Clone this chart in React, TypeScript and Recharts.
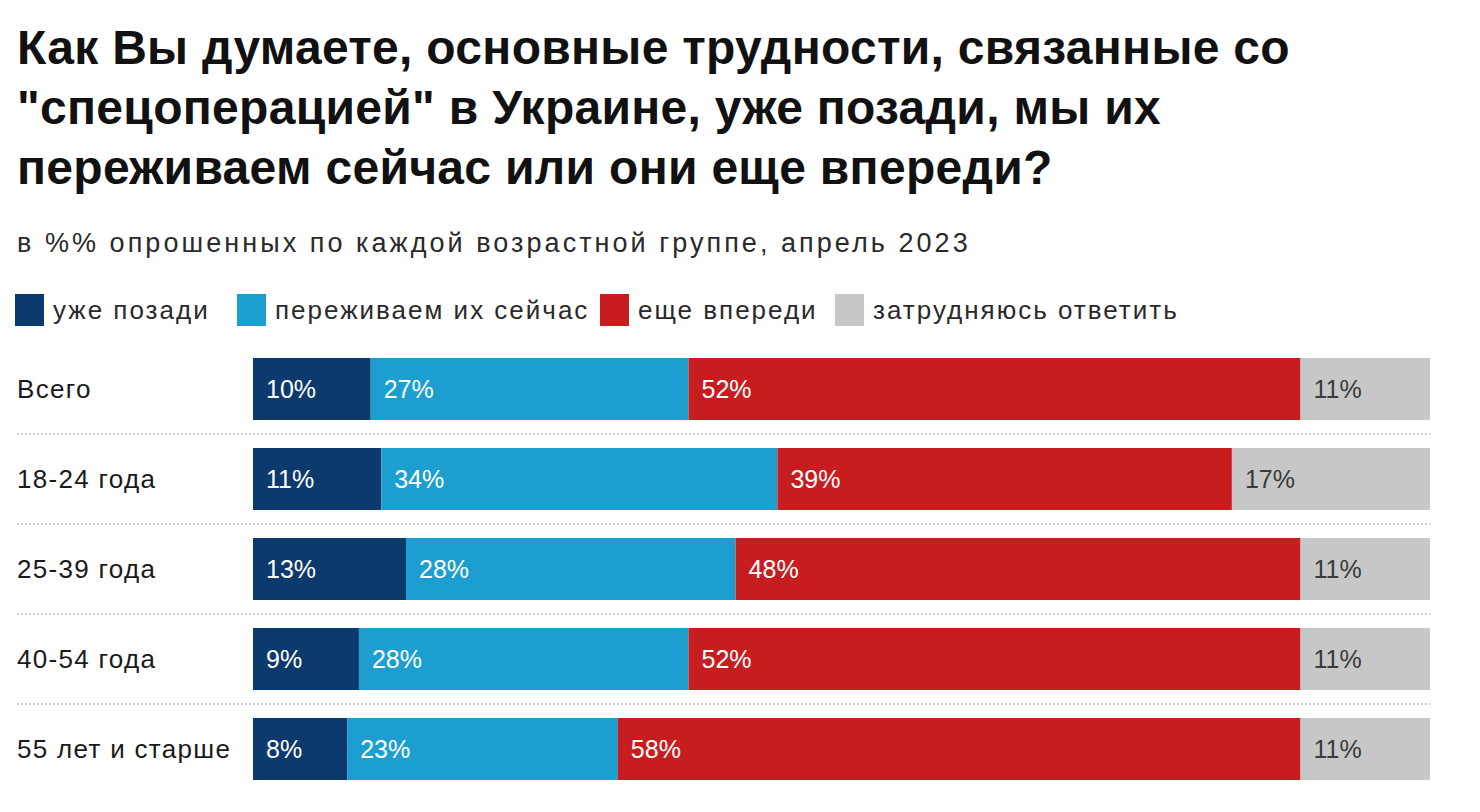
import React from "react";
import { Bar, BarChart, LabelList, XAxis, YAxis } from "recharts";

const groups = ["Всего", "18-24 года", "25-39 года", "40-54 года", "55 лет и старше"];
const behind = [10, 11, 13, 9, 8];
const now = [27, 34, 28, 28, 23];
const ahead = [52, 39, 48, 52, 58];
const unsure = [11, 17, 11, 11, 11];

const seriesNames = ["уже позади", "переживаем их сейчас", "еще впереди", "затрудняюсь ответить"];
const seriesKeys = ["behind", "now", "ahead", "unsure"];
const seriesColors = ["#0d3a6c", "#1c9fd0", "#c81d1f", "#c7c7c7"];
const labelColors = ["#ffffff", "#ffffff", "#ffffff", "#3a3a3a"];
const legendX = [15, 237, 600, 835];

const rows = groups.map((group, i) => ({
  group,
  behind: behind[i],
  now: now[i],
  ahead: ahead[i],
  unsure: unsure[i],
}));

const FONT = "'Liberation Sans', Arial, sans-serif";

function GroupTick(props: any) {
  const { y, payload } = props;
  return (
    <text
      x={17}
      y={y}
      dy={9}
      fontSize={26}
      letterSpacing={1.3}
      fill="#1a1a1a"
      fontFamily={FONT}
      textAnchor="start"
    >
      {payload.value}
    </text>
  );
}

function makeLabel(color: string) {
  return function SegmentLabel(props: any) {
    const { x, y, height, value } = props;
    return (
      <text x={x + 13} y={y + height / 2} dy={9} fontSize={25} fill={color} fontFamily={FONT}>
        {value}%
      </text>
    );
  };
}

// last segment also draws the dotted separator under its row
function LastSegment(props: any) {
  const { x, y, width, height, fill, index } = props;
  return (
    <g>
      <rect x={x} y={y} width={width} height={height} fill={fill} />
      {index < groups.length - 1 && (
        <line
          x1={17}
          x2={x + width}
          y1={y + height + 14}
          y2={y + height + 14}
          stroke="#cfcfcf"
          strokeWidth={2}
          strokeDasharray="2 2"
        />
      )}
    </g>
  );
}

export default function App() {
  return (
    <div
      style={{
        position: "absolute",
        left: 0,
        top: 0,
        width: 1480,
        height: 812,
        background: "#fff",
        fontFamily: FONT,
        overflow: "hidden",
      }}
    >
      <div
        style={{
          position: "absolute",
          left: 17,
          top: 18,
          fontSize: 48,
          fontWeight: 700,
          lineHeight: "60px",
          color: "#111",
          letterSpacing: 0.3,
          whiteSpace: "pre",
        }}
      >
        {"Как Вы думаете, основные трудности, связанные со\n\"спецоперацией\" в Украине, уже позади, мы их\nпереживаем сейчас или они еще впереди?"}
      </div>
      <div
        style={{
          position: "absolute",
          left: 17,
          top: 228,
          fontSize: 27,
          letterSpacing: 3.05,
          color: "#2a2a2a",
          whiteSpace: "nowrap",
        }}
      >
        в %% опрошенных по каждой возрастной группе, апрель 2023
      </div>
      {seriesNames.map((name, i) => (
        <div
          key={name}
          style={{
            position: "absolute",
            left: legendX[i],
            top: 294,
            display: "flex",
            alignItems: "center",
            whiteSpace: "nowrap",
          }}
        >
          <div style={{ width: 29, height: 32, background: seriesColors[i], marginRight: 9 }} />
          <span style={{ fontSize: 26, letterSpacing: 2, color: "#2a2a2a" }}>{name}</span>
        </div>
      ))}
      <BarChart
        width={1480}
        height={812}
        data={rows}
        layout="vertical"
        stackOffset="expand"
        barSize={62}
        margin={{ top: 344, right: 50, bottom: 18, left: 0 }}
        style={{ position: "absolute", left: 0, top: 0 }}
      >
        <XAxis type="number" hide domain={[0, 1]} />
        <YAxis type="category" dataKey="group" width={253} axisLine={false} tickLine={false} tick={<GroupTick />} />
        {seriesKeys.map((key, i) => (
          <Bar
            key={key}
            dataKey={key}
            stackId="a"
            fill={seriesColors[i]}
            isAnimationActive={false}
            shape={i === seriesKeys.length - 1 ? <LastSegment /> : undefined}
          >
            <LabelList dataKey={key} content={makeLabel(labelColors[i])} />
          </Bar>
        ))}
      </BarChart>
    </div>
  );
}
